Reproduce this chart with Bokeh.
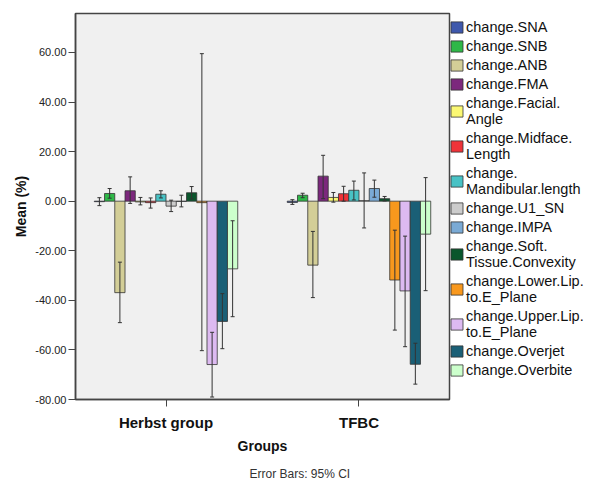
from bokeh.plotting import figure
from bokeh.models import (ColumnDataSource, FactorRange, Range1d, Legend, LegendItem,
                          Whisker, TeeHead, NumeralTickFormatter, Title, FixedTicker)
from bokeh.transform import dodge
from bokeh.embed import file_html
from bokeh.resources import INLINE

groups = ["Herbst group", "TFBC"]
series = ["change.SNA", "change.SNB", "change.ANB", "change.FMA",
          "change.Facial.\nAngle", "change.Midface.\nLength", "change.\nMandibular.length",
          "change.U1_SN", "change.IMPA", "change.Soft.\nTissue.Convexity",
          "change.Lower.Lip.\nto.E_Plane", "change.Upper.Lip.\nto.E_Plane",
          "change.Overjet", "change.Overbite"]
colors = ["#3E58AC", "#2EB848", "#D3CE97", "#7C287D", "#FBF873", "#EF3338", "#48C2C5",
          "#CCCCCC", "#7AAAD5", "#0A562C", "#F8981D", "#DDBAF1", "#1A5F76", "#CCFFCC"]

herbst_mean = [-0.2, 3.1, -36.9, 4.2, -0.3, -0.6, 2.8, -2.0, -0.1, 3.4, -0.6, -65.9, -48.5, -27.3]
herbst_lo = [-1.8, 1.2, -49.0, -0.9, -1.5, -2.8, 1.3, -4.2, -2.3, 0.9, -60.3, -79.0, -59.5, -46.6]
herbst_hi = [1.4, 5.1, -24.6, 9.8, 1.5, 1.3, 4.2, 0.4, 2.4, 5.9, 59.5, -52.9, -37.3, -7.9]

tfbc_mean = [-0.5, 2.4, -25.8, 10.1, 1.5, 3.0, 4.4, 0.2, 5.1, 1.0, -31.8, -36.2, -65.8, -13.3]
tfbc_lo = [-1.3, 1.4, -38.9, 1.0, -0.4, 0.0, 0.5, -10.8, 1.6, 0.1, -52.0, -58.7, -73.8, -36.1]
tfbc_hi = [0.6, 3.2, -12.2, 18.5, 3.5, 6.0, 8.1, 11.4, 8.5, 1.9, -11.7, -14.1, -57.3, 9.5]

y_ticks = [-80, -60, -40, -20, 0, 20, 40, 60]

FONT = "Liberation Sans"
pitch = 0.0531

p = figure(x_range=FactorRange(factors=groups, range_padding=-0.031),
           y_range=Range1d(-80, 75.7),
           frame_width=374, frame_height=386,
           output_backend="svg", toolbar_location=None,
           min_border_left=75, min_border_top=13, min_border_bottom=60, min_border_right=0,
           background_fill_color="#F0F0F0", border_fill_color="white")

items = []
n = len(series)
for i in range(n):
    src = ColumnDataSource(dict(group=groups,
                                mean=[herbst_mean[i], tfbc_mean[i]],
                                lo=[herbst_lo[i], tfbc_lo[i]],
                                hi=[herbst_hi[i], tfbc_hi[i]]))
    off = (i - (n - 1) / 2) * pitch
    r = p.vbar(x=dodge("group", off, range=p.x_range), top="mean", bottom=0,
               width=pitch, source=src, fill_color=colors[i],
               line_color="#333333", line_width=0.8)
    w = Whisker(base=dodge("group", off, range=p.x_range), upper="hi", lower="lo",
                source=src, line_color="#333333", line_width=1, level="annotation",
                upper_head=TeeHead(size=4, line_color="#333333", line_width=1),
                lower_head=TeeHead(size=4, line_color="#333333", line_width=1))
    p.add_layout(w)
    items.append(LegendItem(label=series[i], renderers=[r]))

legend = Legend(items=items, location="top_left",
                title=" ", title_text_font_size="2px", title_standoff=4,
                label_text_font=FONT, label_text_font_size="14.5px",
                label_text_line_height=1.0, label_text_color="#111111",
                glyph_width=15, glyph_height=14, label_height=14,
                label_standoff=2, spacing=3, padding=0, margin=0,
                border_line_color=None, background_fill_alpha=0)
p.add_layout(legend, "right")

p.xgrid.visible = False
p.ygrid.visible = False
p.outline_line_color = "#444444"
p.outline_line_width = 1.5

for ax in (p.xaxis[0], p.yaxis[0]):
    ax.axis_line_color = "#444444"
    ax.axis_line_width = 1.5
    ax.major_tick_line_color = "#444444"
    ax.major_tick_out = 7
    ax.major_tick_in = 0
    ax.minor_tick_line_color = None
    ax.axis_label_text_font = FONT
    ax.axis_label_text_font_style = "bold"
    ax.axis_label_text_font_size = "14px"
    ax.axis_label_text_color = "#111111"
    ax.major_label_text_font = FONT

p.yaxis.ticker = FixedTicker(ticks=y_ticks)
p.yaxis.formatter = NumeralTickFormatter(format="0.00")
p.yaxis.major_label_text_font_size = "11px"
p.yaxis.major_label_text_color = "#222222"
p.yaxis.major_label_standoff = 2
p.yaxis.axis_label = "Mean (%)"
p.yaxis.axis_label_standoff = 3

p.xaxis.axis_label = "Groups"
p.xaxis.major_label_text_font_size = "15px"
p.xaxis.major_label_text_font_style = "bold"
p.xaxis.major_label_text_color = "#111111"
p.xaxis.major_label_standoff = 7
p.xaxis.axis_label_standoff = 4

t = Title(text="Error Bars: 95% CI", align="left", offset=174, standoff=17,
          text_font=FONT, text_font_size="12px", text_font_style="normal",
          text_color="#333333")
p.add_layout(t, "below")

open("out.html", "w").write(file_html(p, INLINE))
